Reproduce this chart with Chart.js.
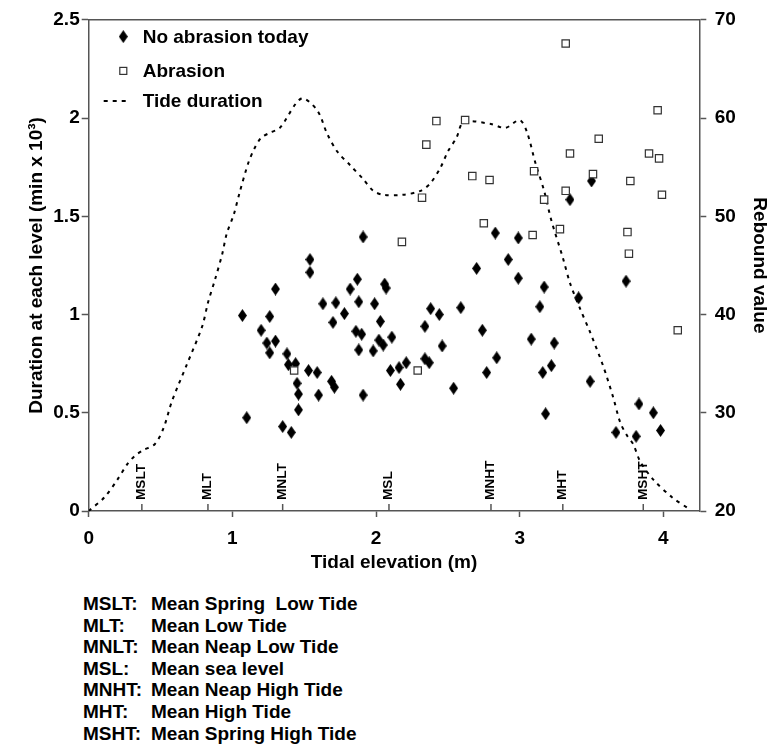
<!DOCTYPE html>
<html>
<head>
<meta charset="utf-8">
<script src="https://cdn.jsdelivr.net/npm/chart.js@4.4.0/dist/chart.umd.min.js"></script>
<style>
  body { margin: 0; background: #fff; }
  #wrap { position: relative; width: 769px; height: 745px; overflow: hidden; }
  #tideChart { position: absolute; left: 0; top: 0; }
  #notes { position: absolute; left: 83px; top: 593px; font: bold 19px 'Liberation Sans', Arial, sans-serif; color: #000; }
  .row { position: relative; height: 21.6px; line-height: 21.6px; white-space: pre; }
  .abbr { position: absolute; left: 0; }
  .def { position: absolute; left: 68px; }
</style>
</head>
<body>
<div id="wrap">
  <canvas id="tideChart" width="769" height="580"></canvas>
  <div id="notes"></div>
</div>
<script>
// tide duration curve (left axis, min x 10^3)
const tideX   = [0, 0.11, 0.2, 0.27, 0.32, 0.38, 0.46, 0.52, 0.58, 0.68, 0.79, 0.83, 0.88, 0.93, 0.96, 1.01, 1.05, 1.11, 1.15, 1.2, 1.26, 1.33, 1.48, 1.59, 1.66, 1.73, 1.82, 1.91, 1.98, 2.05, 2.19, 2.31, 2.38, 2.45, 2.5, 2.56, 2.61, 2.8, 2.9, 3.0, 3.05, 3.11, 3.17, 3.22, 3.3, 3.35, 3.42, 3.49, 3.58, 3.65, 3.7, 3.75, 3.79, 3.84, 3.93, 4.06, 4.18];
const tideDur = [0, 0.07, 0.16, 0.24, 0.28, 0.31, 0.34, 0.42, 0.56, 0.74, 0.94, 1.06, 1.18, 1.31, 1.41, 1.51, 1.62, 1.77, 1.84, 1.9, 1.925, 1.95, 2.1, 2.04, 1.92, 1.83, 1.76, 1.69, 1.63, 1.61, 1.61, 1.63, 1.67, 1.75, 1.83, 1.9, 1.98, 1.97, 1.95, 1.99, 1.93, 1.77, 1.63, 1.48, 1.29, 1.16, 1.03, 0.91, 0.74, 0.58, 0.45, 0.38, 0.34, 0.25, 0.16, 0.07, 0.01];

// rebound values (right axis)
const noAbrX = [1.54, 1.54, 1.30, 1.07, 1.26, 1.20, 1.24, 1.30, 1.26, 1.38, 1.39, 1.44, 1.45, 1.46, 1.46, 1.10, 1.35, 1.41, 1.53, 1.59, 1.60, 1.69, 1.71, 1.63, 1.72, 1.70, 1.78, 1.82, 1.87, 1.88, 1.86, 1.90, 1.88, 1.98, 1.91, 2.06, 2.07, 1.99, 2.03, 2.02, 2.05, 2.11, 2.10, 2.16, 2.21, 2.17, 2.38, 2.44, 2.34, 2.46, 2.34, 2.37, 2.54, 2.59, 2.70, 2.74, 2.77, 2.84, 2.92, 2.99, 3.08, 3.14, 3.17, 3.16, 3.22, 3.24, 3.18, 3.41, 3.49, 3.67, 3.74, 3.81, 3.83, 3.93, 3.98, 3.50, 3.35, 2.83, 2.99, 1.91];
const noAbrRebound = [45.6, 44.3, 42.6, 39.9, 39.8, 38.4, 37.1, 37.3, 36.1, 36.0, 34.9, 35.0, 33.0, 31.9, 30.3, 29.5, 28.6, 28.0, 34.3, 34.1, 31.8, 33.2, 32.6, 41.1, 41.2, 39.2, 40.1, 42.6, 43.6, 41.3, 38.3, 38.0, 36.4, 36.3, 31.8, 43.1, 42.7, 41.1, 39.3, 37.4, 36.9, 37.7, 34.3, 34.6, 35.1, 32.9, 40.6, 40.0, 38.8, 36.8, 35.5, 35.1, 32.5, 40.7, 44.7, 38.4, 34.1, 35.6, 45.6, 43.7, 37.5, 40.8, 42.8, 34.1, 34.8, 37.1, 29.9, 41.7, 33.2, 28.0, 43.4, 27.6, 30.9, 30.0, 28.2, 53.6, 51.7, 48.3, 47.8, 47.9];

const abrX = [1.43, 2.29, 2.18, 2.42, 2.35, 2.32, 3.32, 2.62, 3.96, 3.55, 3.35, 3.90, 3.97, 2.67, 2.79, 3.10, 3.51, 3.77, 3.99, 3.32, 3.17, 2.75, 3.09, 3.28, 3.75, 3.76, 4.10];
const abrRebound = [34.3, 34.3, 47.4, 59.7, 57.3, 51.9, 67.6, 59.8, 60.8, 57.9, 56.4, 56.4, 55.9, 54.1, 53.7, 54.6, 54.3, 53.6, 52.2, 52.6, 51.7, 49.3, 48.1, 48.7, 48.4, 46.2, 38.4];

// tidal levels marked on the x axis
const markerNames = ['MSLT', 'MLT', 'MNLT', 'MSL', 'MNHT', 'MHT', 'MSHT'];
const markerPos   = [0.37, 0.83, 1.35, 2.09, 2.80, 3.30, 3.86];

const xTicks  = [0, 1, 2, 3, 4];
const yTicks  = [0, 0.5, 1, 1.5, 2, 2.5];
const y2Ticks = [20, 30, 40, 50, 60, 70];

const noteAbbr = ['MSLT:', 'MLT:', 'MNLT:', 'MSL:', 'MNHT:', 'MHT:', 'MSHT:'];
const noteText = ['Mean Spring  Low Tide', 'Mean Low Tide', 'Mean Neap Low Tide', 'Mean sea level', 'Mean Neap High Tide', 'Mean High Tide', 'Mean Spring High Tide'];

const FONT = "'Liberation Sans', Arial, sans-serif";
const AXIS = '#555';

function makeDiamond(w, h) {
  const c = document.createElement('canvas');
  c.width = w; c.height = h;
  const g = c.getContext('2d');
  g.fillStyle = '#000';
  g.beginPath();
  g.moveTo(w / 2, 0); g.lineTo(w, h / 2); g.lineTo(w / 2, h); g.lineTo(0, h / 2);
  g.closePath();
  g.fill();
  return c;
}
const diamond = makeDiamond(9, 13);

// legend drawn inside the plot, top-left
const insideLegend = {
  id: 'insideLegend',
  afterDraw(chart) {
    const { ctx, chartArea: a } = chart;
    const ds = chart.data.datasets;
    const rows = [16.7, 51, 81];
    const mx = a.left + 34.6, tx = a.left + 54;
    ctx.save();
    ctx.font = 'bold 19px ' + FONT;
    ctx.fillStyle = '#000';
    ctx.textBaseline = 'middle';
    // diamond
    let y = a.top + rows[0];
    ctx.drawImage(diamond, mx - diamond.width / 2, y - diamond.height / 2);
    ctx.fillText(ds[1].label, tx, y + 1);
    // square
    y = a.top + rows[1];
    ctx.strokeStyle = '#333';
    ctx.lineWidth = 1.2;
    ctx.strokeRect(mx - 3.5, y - 3.5, 7, 7);
    ctx.fillText(ds[2].label, tx, y + 1);
    // dotted line
    y = a.top + rows[2];
    ctx.strokeStyle = '#000';
    ctx.lineWidth = 2;
    ctx.setLineDash([4, 5]);
    ctx.beginPath();
    ctx.moveTo(a.left + 15, y);
    ctx.lineTo(a.left + 40, y);
    ctx.stroke();
    ctx.setLineDash([]);
    ctx.fillText(ds[0].label, tx, y + 1);
    ctx.restore();
  }
};

// inward ticks + rotated labels for tidal levels
const tideMarkers = {
  id: 'tideMarkers',
  afterDatasetsDraw(chart) {
    const { ctx, chartArea: a, scales: { x } } = chart;
    ctx.save();
    ctx.strokeStyle = AXIS;
    ctx.lineWidth = 1.5;
    ctx.fillStyle = '#000';
    ctx.font = 'bold 13.6px ' + FONT;
    ctx.textAlign = 'left';
    ctx.textBaseline = 'middle';
    markerPos.forEach((v, i) => {
      const px = x.getPixelForValue(v);
      ctx.beginPath();
      ctx.moveTo(px, a.bottom);
      ctx.lineTo(px, a.bottom - 7);
      ctx.stroke();
      ctx.save();
      ctx.translate(px - 0.5, a.bottom - 11);
      ctx.rotate(-Math.PI / 2);
      ctx.fillText(markerNames[i], 0, 0);
      ctx.restore();
    });
    ctx.restore();
  }
};

const tickFont = { family: FONT, size: 19, weight: 'bold' };

new Chart(document.getElementById('tideChart'), {
  type: 'scatter',
  data: {
    datasets: [{
      label: 'Tide duration',
      data: tideX.map((x, i) => ({ x, y: tideDur[i] })),
      yAxisID: 'y',
      showLine: true,
      borderColor: '#000',
      borderWidth: 2,
      borderDash: [3.5, 5],
      pointRadius: 0,
      tension: 0.3,
      order: 3
    }, {
      label: 'No abrasion today',
      data: noAbrX.map((x, i) => ({ x, y: noAbrRebound[i] })),
      yAxisID: 'y2',
      pointStyle: diamond,
      order: 2
    }, {
      label: 'Abrasion',
      data: abrX.map((x, i) => ({ x, y: abrRebound[i] })),
      yAxisID: 'y2',
      pointStyle: 'rect',
      pointRadius: 5.2,
      borderColor: '#333',
      backgroundColor: '#fff',
      borderWidth: 1.2,
      order: 1
    }]
  },
  options: {
    responsive: false,
    animation: false,
    events: [],
    layout: { padding: { top: 14, left: 0, right: 0, bottom: 0 } },
    plugins: { legend: { display: false }, tooltip: { enabled: false } },
    scales: {
      x: {
        type: 'linear', position: 'bottom', min: 0, max: 4.25,
        afterBuildTicks: s => { s.ticks = xTicks.map(v => ({ value: v })); },
        afterFit: s => { s.height = 69; },
        grid: { drawOnChartArea: false, tickLength: 6, color: AXIS, tickWidth: 1.5 },
        border: { color: AXIS, width: 1.5 },
        ticks: { padding: 10, color: '#000', font: tickFont, callback: v => String(v) },
        title: { display: true, text: 'Tidal elevation (m)', color: '#000', font: tickFont, padding: { top: 0, bottom: 5.6 } }
      },
      xTop: {
        type: 'linear', position: 'top', min: 0, max: 4.25,
        afterFit: s => { s.height = 0; },
        grid: { display: false },
        border: { color: AXIS, width: 1.5 },
        ticks: { display: false }
      },
      y: {
        type: 'linear', position: 'left', min: 0, max: 2.5,
        afterBuildTicks: s => { s.ticks = yTicks.map(v => ({ value: v })); },
        afterFit: s => { s.width = 88.7; },
        grid: { drawOnChartArea: false, tickLength: 7, color: AXIS, tickWidth: 1.5 },
        border: { color: AXIS, width: 1.5 },
        ticks: { padding: 2, color: '#000', font: tickFont, callback: v => String(v) },
        title: { display: true, text: 'Duration at each level (min x 10³)', color: '#000', font: tickFont, padding: { top: 25.6, bottom: 0 } }
      },
      y2: {
        type: 'linear', position: 'right', min: 20, max: 70,
        afterBuildTicks: s => { s.ticks = y2Ticks.map(v => ({ value: v })); },
        afterFit: s => { s.width = 69.7; },
        grid: { drawOnChartArea: false, tickLength: 7, color: AXIS, tickWidth: 1.5 },
        border: { color: AXIS, width: 1.5 },
        ticks: { padding: 8.5, color: '#000', font: tickFont, callback: v => String(v) },
        title: { display: true, text: 'Rebound value', color: '#000', font: { family: FONT, size: 19, weight: 'bold', lineHeight: 1 }, padding: { top: 0, bottom: 0 } }
      }
    }
  },
  plugins: [insideLegend, tideMarkers]
});

const notes = document.getElementById('notes');
noteAbbr.forEach((a, i) => {
  const row = document.createElement('div');
  row.className = 'row';
  row.innerHTML = '<span class="abbr"></span><span class="def"></span>';
  row.children[0].textContent = a;
  row.children[1].textContent = noteText[i];
  notes.appendChild(row);
});
</script>
</body>
</html>
